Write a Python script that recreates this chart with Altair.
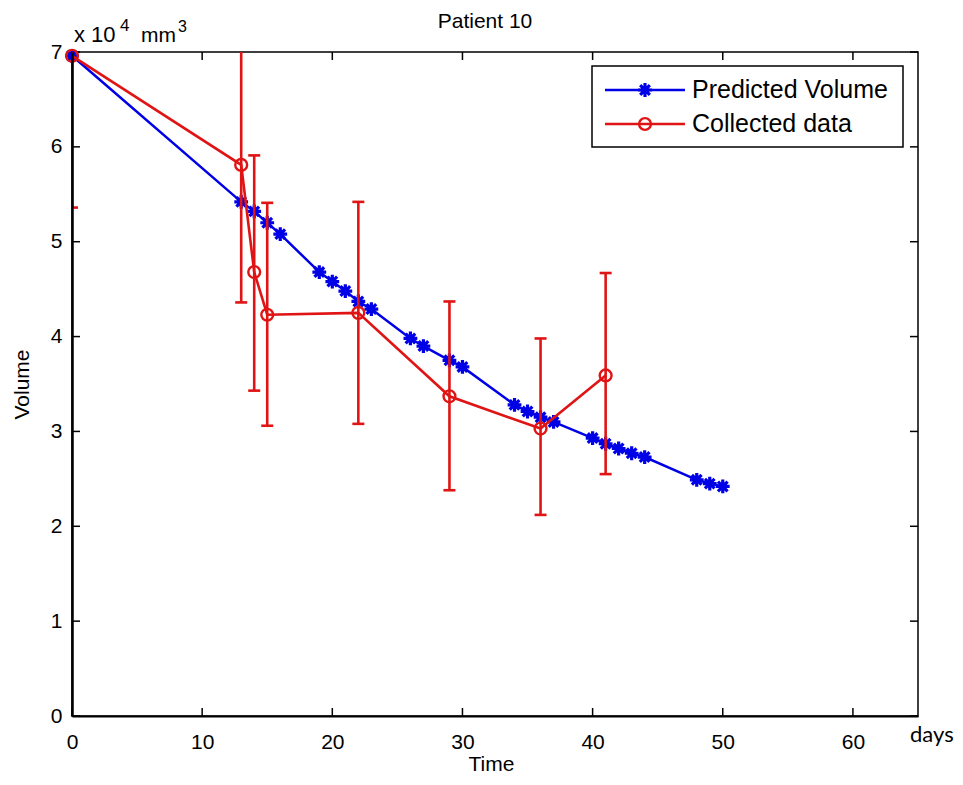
import altair as alt
import pandas as pd

# ---------------- data (volume in units of 10^4 mm^3, time in days) ----------------
pred_day = [0, 13, 14, 15, 16, 19, 20, 21, 22, 23, 26, 27, 29, 30, 34, 35, 36, 37,
            40, 41, 42, 43, 44, 48, 49, 50]
pred_vol = [6.96, 5.42, 5.32, 5.20, 5.08, 4.68, 4.58, 4.48, 4.37, 4.29, 3.98, 3.90,
            3.75, 3.68, 3.28, 3.21, 3.15, 3.10, 2.93, 2.87, 2.82, 2.77, 2.73, 2.49,
            2.45, 2.42]

obs_day = [0, 13, 14, 15, 22, 29, 36, 41]
obs_vol = [6.96, 5.81, 4.68, 4.23, 4.25, 3.37, 3.03, 3.59]
obs_lo = [5.36, 4.36, 3.43, 3.06, 3.08, 2.38, 2.12, 2.55]
obs_hi = [8.56, 7.26, 5.91, 5.41, 5.42, 4.37, 3.98, 4.67]

x_ticks = [0, 10, 20, 30, 40, 50, 60]
y_ticks = [0, 1, 2, 3, 4, 5, 6, 7]

title_text = "Patient 10"
x_title = "Time"
y_title = "Volume"
legend_labels = ["Predicted Volume", "Collected data"]

# ---------------- styling ----------------
W, H = 846, 664
F = "Liberation Sans"
BLUE = "#0000E6"
RED = "#E01414"
STAR = "M-1,0L1,0M0,-1L0,1M-0.7,-0.7L0.7,0.7M-0.7,0.7L0.7,-0.7"

xs = alt.Scale(domain=[0, 65], nice=False, zero=False)
ys = alt.Scale(domain=[0, 7], nice=False, zero=False)

x_axis = alt.Axis(values=x_ticks, title=x_title, ticks=False, tickSize=0, labelPadding=15,
                  labelFont=F, labelFontSize=21, labelColor="black",
                  titleFont=F, titleFontSize=21, titleFontWeight="normal", titleColor="black",
                  titleX=419, titleY=48, titleBaseline="middle", titleAlign="center",
                  domain=True, domainColor="black", domainWidth=2, grid=False, zindex=1,
                  labelFlush=False)
y_axis = alt.Axis(values=y_ticks, title=y_title, ticks=False, tickSize=0, labelPadding=10,
                  labelFont=F, labelFontSize=21, labelColor="black",
                  titleFont=F, titleFontSize=21, titleFontWeight="normal", titleColor="black",
                  titleX=-50, titleY=H / 2, titleAngle=270, titleBaseline="middle",
                  titleAlign="center",
                  domain=True, domainColor="black", domainWidth=2.5, grid=False, zindex=1)

pred = pd.DataFrame({"day": pred_day, "vol": pred_vol})
obs = pd.DataFrame({"day": obs_day, "vol": obs_vol, "lo": obs_lo, "hi": obs_hi})
xt = pd.DataFrame({"t": x_ticks})
yt = pd.DataFrame({"t": y_ticks})


def X(f):
    return alt.X(f"{f}:Q", scale=xs, axis=x_axis)


def Y(f):
    return alt.Y(f"{f}:Q", scale=ys, axis=y_axis)


one = pd.DataFrame({"k": [0]})

# inner ticks (MATLAB style)
tick_bottom = alt.Chart(xt).mark_rule(color="black", strokeWidth=1.5).encode(
    x=X("t"), y=alt.value(H), y2=alt.value(H - 8))
tick_top = alt.Chart(xt).mark_rule(color="black", strokeWidth=1.5).encode(
    x=X("t"), y=alt.value(0), y2=alt.value(8))
tick_left = alt.Chart(yt).mark_rule(color="black", strokeWidth=1.5).encode(
    y=Y("t"), x=alt.value(0), x2=alt.value(8))
tick_right = alt.Chart(yt).mark_rule(color="black", strokeWidth=1.5).encode(
    y=Y("t"), x=alt.value(W), x2=alt.value(W - 8))

# predicted volume
pred_line = alt.Chart(pred).mark_line(color=BLUE, strokeWidth=2.5).encode(
    x=X("day"), y=Y("vol"))
pred_pts = alt.Chart(pred).mark_point(shape=STAR, size=190, filled=False, color=BLUE,
                                      strokeWidth=3.2, opacity=1).encode(
    x=X("day"), y=Y("vol"))

# collected data with error bars
err_bar = alt.Chart(obs).mark_rule(color=RED, strokeWidth=2.6, clip=True).encode(
    x=X("day"), y=Y("lo"), y2="hi:Q")
cap_lo = alt.Chart(obs).mark_tick(color=RED, orient="horizontal", size=12, thickness=2.6,
                                  clip=True, opacity=1).encode(x=X("day"), y=Y("lo"))
cap_hi = alt.Chart(obs).mark_tick(color=RED, orient="horizontal", size=12, thickness=2.6,
                                  clip=True, opacity=1).encode(x=X("day"), y=Y("hi"))
obs_line = alt.Chart(obs).mark_line(color=RED, strokeWidth=2.6).encode(
    x=X("day"), y=Y("vol"))
obs_pts = alt.Chart(obs).mark_point(shape="circle", size=140, filled=False, color=RED,
                                    strokeWidth=2.4, opacity=1).encode(
    x=X("day"), y=Y("vol"))


def txt(text, x, y, size, font=F, align="left", baseline="alphabetic"):
    return alt.Chart(pd.DataFrame({"t": [text]})).mark_text(
        font=font, fontSize=size, align=align, baseline=baseline, color="black").encode(
        x=alt.value(x), y=alt.value(y), text="t:N")


annotations = [
    txt(title_text, 413, -30, 21, align="center", baseline="middle"),
    txt("x 10", 2, -10, 22),
    txt("4", 48, -21, 17),
    txt("mm", 69, -10, 21),
    txt("3", 106, -20, 16),
    txt("days", 838, 690, 22, font="Lato"),
]

# legend
leg_box = alt.Chart(one).mark_rect(fill="white", stroke="black", strokeWidth=1.5).encode(
    x=alt.value(520), x2=alt.value(831), y=alt.value(14), y2=alt.value(95))
leg_l1 = alt.Chart(one).mark_rule(color=BLUE, strokeWidth=2.5).encode(
    x=alt.value(533), x2=alt.value(613), y=alt.value(38))
leg_p1 = alt.Chart(one).mark_point(shape=STAR, size=190, filled=False, color=BLUE,
                                   strokeWidth=3.2, opacity=1).encode(
    x=alt.value(573), y=alt.value(38))
leg_l2 = alt.Chart(one).mark_rule(color=RED, strokeWidth=2.5).encode(
    x=alt.value(533), x2=alt.value(613), y=alt.value(72))
leg_p2 = alt.Chart(one).mark_point(shape="circle", size=140, filled=False, color=RED,
                                   strokeWidth=2.4, opacity=1).encode(
    x=alt.value(573), y=alt.value(72))
leg_t1 = txt(legend_labels[0], 620, 38, 25, baseline="middle")
leg_t2 = txt(legend_labels[1], 620, 72, 25, baseline="middle")

chart = alt.layer(
    tick_bottom, tick_top, tick_left, tick_right,
    pred_line, pred_pts,
    err_bar, cap_lo, cap_hi, obs_line, obs_pts,
    *annotations,
    leg_box, leg_l1, leg_p1, leg_l2, leg_p2, leg_t1, leg_t2,
).properties(
    width=W, height=H,
    padding={"left": 64, "top": 44, "right": 37, "bottom": 60},
    autosize=alt.AutoSizeParams(type="none"),
    background="white",
).configure_view(stroke="black", strokeWidth=1.5)

chart.save("out.html", embed_options={"renderer": "svg", "actions": False})
